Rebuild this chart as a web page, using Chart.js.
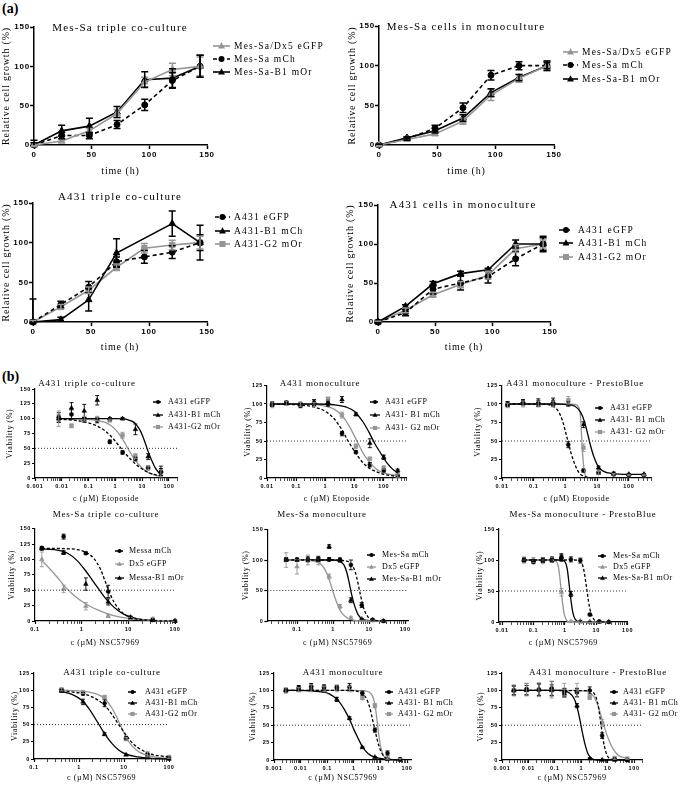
<!DOCTYPE html>
<html><head><meta charset="utf-8">
<script src="https://cdn.jsdelivr.net/npm/chart.js@4/dist/chart.umd.min.js"></script>
<style>
html,body{margin:0;padding:0;background:#fff;width:685px;height:787px;overflow:hidden;position:relative;}
canvas{position:absolute;}
.panel{position:absolute;font:bold 14px "Liberation Serif";color:#000;}
</style></head><body>
<div class="panel" style="left:2px;top:1px">(a)</div>
<div class="panel" style="left:2px;top:369px">(b)</div>
<script>
// ================= DATA =================
// ---- (a) growth curves ----
const timeH = [0, 24, 48, 72, 96, 120, 144];
const growthTicks = [0, 50, 100, 150];

const mesTriDx5 = [0, 5, 18, 40, 80, 96, 100];
const mesTriDx5Err = [3, 2, 3, 5, 6, 8, 12];
const mesTriMCh = [0, 12, 12, 26, 51, 82, 100];
const mesTriMChErr = [3, 4, 4, 5, 7, 10, 14];
const mesTriB1 = [0, 18, 24, 42, 83, 85, 100];
const mesTriB1Err = [6, 7, 10, 7, 10, 12, 14];

const mesMonoDx5 = [0, 7, 14, 30, 63, 84, 100];
const mesMonoDx5Err = [1, 2, 2, 4, 7, 5, 6];
const mesMonoMCh = [0, 8, 21, 47, 88, 100, 100];
const mesMonoMChErr = [1, 2, 4, 6, 6, 5, 6];
const mesMonoB1 = [0, 9, 18, 34, 66, 85, 100];
const mesMonoB1Err = [1, 1, 3, 4, 5, 4, 4];

const aTriEGFP = [0, 22, 44, 76, 82, 88, 100];
const aTriEGFPErr = [2, 4, 7, 6, 8, 8, 10];
const aTriB1 = [0, 3, 28, 87, null, 124, 100];
const aTriB1Err = [29, 3, 14, 18, null, 16, 22];
const aTriG2 = [0, 19, 40, 69, 93, 97, 100];
const aTriG2Err = [2, 3, 4, 4, 6, 6, 8];

const aMonoEGFP = [0, 12, 42, 50, 58, 81, 100];
const aMonoEGFPErr = [2, 4, 6, 9, 8, 9, 8];
const aMonoB1 = [0, 20, 49, 62, 67, 100, 100];
const aMonoB1Err = [1, 2, 3, 3, 2, 5, 10];
const aMonoG2 = [0, 15, 35, 48, 60, 94, 100];
const aMonoG2Err = [1, 3, 3, 4, 5, 5, 5];

// ---- (b) dose response ----
const logTickValues = [0.001, 0.01, 0.1, 1, 10, 100];
const logTickLabels = ['0.001', '0.01', '0.1', '1', '10', '100'];
const halfViability = 50;

// b1 A431 triple co-culture, Etoposide
const b1Conc = [0.0077, 0.023, 0.069, 0.21, 0.62, 1.85, 5.6, 16.7, 50];
const b1EGFP = [102, 107, 98, 97, 61, 43, 32, 17, 10];
const b1EGFPErr = [8, 8, 4, 4, 3, 3, 3, 3, 6];
const b1B1 = [100, 118, 113, 131, 100, 100, 82, 36, 12];
const b1B1Err = [6, 9, 11, 8, 2, 2, 9, 5, 8];
const b1G2 = [100, 88, 100, 100, 97, 72, 37, 17, 8];
const b1G2Err = [13, 3, 4, 4, 2, 5, 4, 3, 6];
const b1FitEGFPx = [0.0077, 0.02, 0.05, 0.1, 0.2, 0.4, 0.7, 1, 1.5, 2.5, 4, 7, 12, 20, 35, 50];
const b1FitEGFPy = [99, 98, 96, 93, 88, 80, 70, 62, 52, 40, 30, 20, 13, 8, 5, 4];
const b1FitB1x = [0.0077, 0.1, 1, 2, 3, 4.5, 6, 8, 10, 13, 17, 22, 30, 40, 50];
const b1FitB1y = [100, 100, 100, 99.5, 98, 95, 90, 82, 73, 59, 44, 31, 18, 10, 6];
const b1FitG2x = [0.0077, 0.05, 0.1, 0.2, 0.4, 0.7, 1, 1.5, 2.2, 3, 4.5, 7, 11, 17, 30, 50];
const b1FitG2y = [100, 99.5, 99, 97, 94, 88, 82, 72, 60, 49, 36, 24, 15, 9, 5, 3];

// b2 A431 monoculture, Etoposide
const b2Conc = [0.015, 0.046, 0.14, 0.41, 1.23, 3.7, 11.1, 33.3, 100, 300];
const b2EGFP = [100, 102, 98, 101, 100, 60, 35, 18, 10, 3];
const b2EGFPErr = [3, 2, 3, 3, 3, 3, 2, 3, 2, 2];
const b2B1 = [100, 101, 99, 102, 102, 106, 86, 47, 28, 10];
const b2B1Err = [3, 2, 2, 4, 3, 4, 2, 6, 3, 2];
const b2G2 = [99, 101, 100, 99, 107, 85, 43, 26, 14, 3];
const b2G2Err = [4, 3, 3, 3, 2, 4, 3, 2, 2, 2];
const b2FitEGFPx = [0.015, 0.05, 0.15, 0.4, 1, 2, 3.7, 6, 10, 18, 33, 60, 100, 300];
const b2FitEGFPy = [100, 99.5, 98.5, 96, 90, 80, 65, 50, 36, 22, 13, 8, 5, 2];
const b2FitB1x = [0.015, 0.5, 2, 5, 10, 20, 33, 50, 80, 130, 200, 300];
const b2FitB1y = [100, 100, 99, 96, 90, 75, 60, 46, 33, 20, 12, 7];
const b2FitG2x = [0.015, 0.3, 1, 2, 4, 7, 12, 20, 35, 60, 100, 300];
const b2FitG2y = [100, 99.5, 97, 93, 83, 68, 50, 33, 20, 11, 7, 3];

// b3 A431 monoculture - PrestoBlue, Etoposide
const b3Conc = [0.015, 0.046, 0.14, 0.41, 1.23, 3.7, 11.1, 33.3, 100, 300];
const b3EGFP = [100, 102, 101, 101, 45, 10, 7, 5, 4, 4];
const b3EGFPErr = [3, 3, 4, 4, 4, 2, 2, 1, 1, 1];
const b3B1 = [100, 103, 102, 103, 100, 72, 14, 6, 5, 5];
const b3B1Err = [3, 3, 5, 5, 3, 4, 2, 2, 1, 1];
const b3G2 = [98, 100, 100, 100, 105, 41, 7, 5, 4, 4];
const b3G2Err = [3, 4, 4, 4, 5, 5, 2, 1, 1, 1];
const b3FitEGFPx = [0.015, 0.2, 0.4, 0.6, 0.8, 1, 1.2, 1.5, 2, 2.7, 3.5, 5, 8];
const b3FitEGFPy = [100, 99.5, 97, 90, 78, 63, 50, 34, 18, 7, 3, 1, 0];
const b3FitB1x = [0.015, 0.5, 1, 2, 3, 4, 5, 6, 8, 11, 16, 30, 100, 300];
const b3FitB1y = [100, 100, 99.5, 97, 89, 76, 60, 46, 28, 15, 9, 6, 5, 5];
const b3FitG2x = [0.015, 1, 2, 2.6, 2.9, 3.1, 3.3, 3.6, 4.0, 4.8];
const b3FitG2y = [100, 100, 99.5, 96, 88, 72, 50, 25, 8, 0];

// b4 Mes-Sa triple co-culture, NSC57969
const b4Conc = [0.14, 0.41, 1.23, 3.7, 11.1, 33.3, 100];
const b4MCh = [118, 137, 110, 48, 5, 2, 0];
const b4MChErr = [3, 4, 2, 10, 2, 1, 1];
const b4Dx5 = [100, 52, 24, 8, 4, 3, 0];
const b4Dx5Err = [12, 6, 6, 2, 2, 3, 1];
const b4B1 = [118, 111, 60, 31, 6, 1, 0];
const b4B1Err = [2, 3, 10, 5, 2, 1, 1];
const b4FitMChx = [0.14, 0.4, 0.8, 1.2, 1.8, 2.5, 3.2, 4, 5, 6.5, 9, 13, 20, 40, 100];
const b4FitMChy = [118, 117.5, 116, 112, 102, 85, 64, 45, 30, 18, 9, 4, 2, 0.5, 0];
const b4FitDx5x = [0.14, 0.2, 0.3, 0.45, 0.7, 1, 1.5, 2.2, 3.5, 6, 11, 30, 100];
const b4FitDx5y = [98, 86, 71, 55, 41, 32, 24, 18, 12, 7, 4, 1.5, 0];
const b4FitB1x = [0.14, 0.25, 0.5, 0.8, 1.2, 1.7, 2.3, 3, 4, 6, 9, 15, 30, 100];
const b4FitB1y = [117, 116, 110, 98, 82, 66, 52, 40, 29, 17, 9, 4, 1, 0];

// b5 Mes-Sa monoculture, NSC57969
const b5Conc = [0.05, 0.1, 0.2, 0.39, 0.78, 1.56, 3.125, 6.25, 12.5, 25];
const b5MCh = [101, 101, 100, 102, 101, 100, 92, 26, 2, 0];
const b5MChErr = [3, 2, 3, 4, 3, 3, 8, 4, 1, 1];
const b5Dx5 = [100, 89, 100, 98, 73, 24, 5, 2, 1, 0];
const b5Dx5Err = [12, 12, 8, 6, 4, 3, 2, 1, 1, 1];
const b5B1 = [100, 100, 102, 101, 122, 100, 34, 3, 1, 0];
const b5B1Err = [2, 2, 3, 3, 3, 3, 4, 1, 1, 1];
const b5FitMChx = [0.05, 1, 2, 3, 3.8, 4.5, 5.2, 6, 7, 8.5, 11, 15, 25];
const b5FitMChy = [100, 100, 99, 95, 86, 72, 55, 38, 22, 10, 3, 1, 0];
const b5FitDx5x = [0.05, 0.2, 0.35, 0.5, 0.65, 0.8, 0.95, 1.15, 1.4, 1.8, 2.5, 4, 8, 25];
const b5FitDx5y = [100, 99.5, 97, 91, 80, 66, 52, 37, 24, 12, 5, 1, 0, 0];
const b5FitB1x = [0.05, 1, 1.5, 2, 2.4, 2.8, 3.2, 3.7, 4.3, 5, 6.5, 9, 25];
const b5FitB1y = [100, 100, 98, 92, 80, 63, 46, 31, 19, 10, 3, 1, 0];

// b6 Mes-Sa monoculture - PrestoBlue, NSC57969
const b6Conc = [0.05, 0.1, 0.2, 0.39, 0.78, 1.56, 3.125, 6.25, 12.5, 25];
const b6MCh = [100, 97, 100, 101, 103, 101, 99, 12, 1, 0];
const b6MChErr = [3, 3, 4, 4, 5, 4, 4, 2, 1, 1];
const b6Dx5 = [100, 100, 99, 100, 48, 1, 0, 0, 0, 0];
const b6Dx5Err = [5, 4, 5, 4, 6, 1, 1, 1, 1, 1];
const b6B1 = [100, 99, 100, 100, 106, 45, 1, 0, 0, 0];
const b6B1Err = [3, 2, 3, 3, 4, 4, 1, 1, 1, 1];
const b6FitMChx = [0.05, 2, 3, 3.6, 4.1, 4.6, 5.1, 5.7, 6.5, 8, 10, 25];
const b6FitMChy = [100, 100, 98, 93, 82, 66, 50, 33, 18, 6, 1, 0];
const b6FitDx5x = [0.05, 0.4, 0.55, 0.63, 0.7, 0.77, 0.85, 0.95, 1.1, 1.4, 25];
const b6FitDx5y = [100, 100, 97, 88, 70, 50, 30, 14, 4, 0, 0];
const b6FitB1x = [0.05, 0.8, 1.05, 1.2, 1.32, 1.45, 1.6, 1.8, 2.1, 2.7, 25];
const b6FitB1y = [100, 100, 96, 85, 68, 50, 32, 15, 5, 0.5, 0];

// b7 A431 triple co-culture, NSC57969
const b7Conc = [0.41, 1.23, 3.7, 11.1, 33.3, 100];
const b7EGFP = [100, 95, 81, 30, 6, 1];
const b7EGFPErr = [2, 2, 5, 3, 2, 1];
const b7B1 = [99, 83, 36, 6, 2, 0];
const b7B1Err = [2, 4, 2, 1, 1, 1];
const b7G2 = [101, 97, 90, 29, 7, 3];
const b7G2Err = [2, 2, 2, 2, 4, 2];
const b7FitEGFPx = [0.41, 0.8, 1.23, 2, 3.7, 5.5, 8, 11.1, 16, 25, 40, 100];
const b7FitEGFPy = [99, 97, 95, 90, 78, 64, 48, 35, 22, 13, 7, 3];
const b7FitB1x = [0.41, 0.7, 1.23, 1.8, 2.5, 3.7, 5.5, 8, 11.1, 20, 40, 100];
const b7FitB1y = [98, 94, 84, 70, 55, 37, 22, 12, 7, 3, 1, 0];
const b7FitG2x = [0.41, 1, 2, 3.7, 5.5, 7, 8.5, 11.1, 15, 22, 35, 60, 100];
const b7FitG2y = [100, 99, 96, 88, 73, 60, 48, 32, 19, 10, 5, 2, 1];

// b8 A431 monoculture, NSC57969
const b8Conc = [0.0028, 0.0085, 0.025, 0.076, 0.23, 0.69, 2.1, 6.2, 18.5, 55];
const b8EGFP = [100, 104, 106, 105, 104, 105, 96, 43, 10, 1];
const b8EGFPErr = [2, 3, 4, 3, 3, 5, 3, 3, 3, 1];
const b8B1 = [100, 101, 102, 100, 87, 60, 18, 4, 1, 0];
const b8B1Err = [2, 2, 3, 3, 3, 2, 1, 1, 1, 1];
const b8G2 = [100, 101, 103, 102, 103, 102, 89, 78, 2, 1];
const b8G2Err = [4, 3, 5, 4, 5, 4, 2, 3, 1, 1];
const b8FitEGFPx = [0.0028, 0.5, 1, 2, 3, 4, 5, 6.2, 7.5, 9, 12, 18.5, 55];
const b8FitEGFPy = [100, 100, 99.5, 96, 88, 75, 59, 44, 30, 19, 8, 2, 0];
const b8FitB1x = [0.0028, 0.02, 0.06, 0.12, 0.25, 0.45, 0.7, 1, 1.5, 2.1, 3.5, 6, 18.5, 55];
const b8FitB1y = [100, 99.5, 98, 95, 86, 72, 58, 44, 30, 19, 9, 4, 1, 0];
const b8FitG2x = [0.0028, 1, 3, 4.5, 5.5, 6.2, 7, 8, 9, 10.5, 13, 18.5, 55];
const b8FitG2y = [100, 100, 99, 95, 88, 80, 66, 48, 32, 17, 6, 1, 0];

// b9 A431 monoculture - PrestoBlue, NSC57969
const b9Conc = [0.0028, 0.0085, 0.025, 0.076, 0.23, 0.69, 2.1, 6.2, 18.5, 55];
const b9EGFP = [100, 102, 101, 103, 97, 97, 100, 35, 1, 0];
const b9EGFPErr = [6, 8, 9, 10, 6, 6, 5, 4, 1, 1];
const b9B1 = [100, 100, 101, 100, 95, 78, 2, 0, 0, 0];
const b9B1Err = [7, 7, 8, 8, 5, 3, 1, 1, 1, 1];
const b9G2 = [100, 101, 101, 101, 100, 100, 90, 53, 3, 2];
const b9G2Err = [8, 9, 10, 12, 10, 10, 3, 5, 2, 1];
const b9FitEGFPx = [0.0028, 2, 3, 3.8, 4.5, 5.2, 6, 7, 8.5, 10.5, 14, 55];
const b9FitEGFPy = [100, 99.5, 96, 88, 76, 60, 43, 26, 12, 4, 1, 0];
const b9FitB1x = [0.0028, 0.15, 0.3, 0.45, 0.6, 0.75, 0.9, 1.1, 1.4, 1.8, 2.5, 4, 55];
const b9FitB1y = [100, 100, 98, 93, 84, 71, 57, 40, 22, 9, 2, 0, 0];
const b9FitG2x = [0.0028, 0.5, 1, 2, 3, 4.5, 6, 8, 11, 16, 25, 55];
const b9FitG2y = [100, 100, 99.5, 97, 91, 76, 60, 44, 29, 16, 7, 2];

// ================= STYLE / LAYOUT =================
const BLACK = '#000000', GRAY = '#959595';
Chart.defaults.animation = false;
Chart.defaults.responsive = false;
Chart.defaults.maintainAspectRatio = false;
Chart.defaults.plugins.legend.display = false;
Chart.defaults.plugins.tooltip.enabled = false;
Chart.defaults.color = '#000';

function drawMarker(ctx, style, x, y, r, color) {
  ctx.save();
  ctx.fillStyle = color;
  ctx.beginPath();
  if (style === 'circle') ctx.arc(x, y, r, 0, Math.PI * 2);
  else if (style === 'triangle') { ctx.moveTo(x, y - r * 1.25); ctx.lineTo(x + r * 1.15, y + r * 0.8); ctx.lineTo(x - r * 1.15, y + r * 0.8); ctx.closePath(); }
  else ctx.rect(x - r, y - r, 2 * r, 2 * r);
  ctx.fill();
  ctx.restore();
}

const errorBars = {
  id: 'errorBars',
  afterDatasetsDraw(chart) {
    const ctx = chart.ctx;
    chart.data.datasets.forEach((ds, i) => {
      if (!ds.errors) return;
      const meta = chart.getDatasetMeta(i);
      const ys = chart.scales[meta.yAxisID];
      ctx.save();
      ctx.strokeStyle = ds.borderColor;
      ctx.lineWidth = ds.errWidth;
      ctx.setLineDash([]);
      meta.data.forEach((el, j) => {
        const e = ds.errors[j];
        const v = ds.data[j].y;
        if (e == null || v == null || !e) return;
        const top = ys.getPixelForValue(v + e);
        const lowV = Math.max(v - e, ys.min);
        const bot = ys.getPixelForValue(lowV);
        const x = el.x, c = ds.capHalf;
        ctx.beginPath();
        ctx.moveTo(x, top); ctx.lineTo(x, bot);
        ctx.moveTo(x - c, top); ctx.lineTo(x + c, top);
        if (v - e > ys.min) { ctx.moveTo(x - c, bot); ctx.lineTo(x + c, bot); }
        ctx.stroke();
      });
      ctx.restore();
    });
  }
};

const annot = {
  id: 'annot',
  beforeDraw(chart, args, o) { chart.ctx.letterSpacing = o.ls + 'px'; },
  afterDraw(chart, args, o) {
    const ctx = chart.ctx;
    ctx.save();
    ctx.fillStyle = '#000';
    ctx.textBaseline = 'middle';
    ctx.letterSpacing = o.titleLs + 'px';
    ctx.font = o.titleFont;
    ctx.textAlign = 'center';
    ctx.fillText(o.title, o.titleX - o.ox, o.titleY - o.oy);
    ctx.font = o.legendFont;
    ctx.letterSpacing = o.legendLs + 'px';
    ctx.textAlign = 'left';
    for (let k = 0; k < o.items.length; k++) {
      const it = o.items[k];
      const ds = chart.data.datasets[it.ds];
      const y = o.ys[k] - o.oy, x0 = o.x0 - o.ox, x1 = o.x1 - o.ox;
      ctx.strokeStyle = ds.borderColor;
      ctx.lineWidth = ds.borderWidth;
      ctx.setLineDash(ds.borderDash || []);
      ctx.beginPath(); ctx.moveTo(x0, y); ctx.lineTo(x1, y); ctx.stroke();
      ctx.setLineDash([]);
      drawMarker(ctx, it.point, (x0 + x1) / 2, y, o.mr, ds.borderColor);
      ctx.fillStyle = '#000';
      ctx.fillText(ds.label, o.tx - o.ox, y);
    }
    ctx.restore();
  }
};
Chart.register(errorBars, annot);

const styleA = {tick: 8, tickLen: 4, tickPad: 0, axisW: 1.5, axisSize: 10, ls: 0.8,
  titleFont: '11px "Liberation Serif"', titleLs: 1.2, legendFont: '9.5px "Liberation Serif"', legendLs: 1.2, mr: 3};
const styleB = {tick: 5.5, tickLen: 3, tickPad: 1, axisW: 1.2, axisSize: 8, ls: 0.6,
  titleFont: '9px "Liberation Serif"', titleLs: 0.8, legendFont: '8px "Liberation Serif"', legendLs: 0.5, mr: 2.1};

function logTicks(min, max) {
  const out = [];
  for (let e = Math.floor(Math.log10(min)); e <= Math.ceil(Math.log10(max)); e++) {
    for (let k = 1; k <= 9; k++) {
      const v = Number((k * Math.pow(10, e)).toPrecision(6));
      if (v >= min * 0.9999 && v <= max * 1.0001) out.push({value: v});
    }
  }
  return out;
}
function logLabel(v) {
  const i = logTickValues.findIndex(t => Math.abs(Math.log10(v) - Math.log10(t)) < 1e-6);
  return i >= 0 ? logTickLabels[i] : '';
}

function build(spec, st, datasets, items) {
  const lh = st.axisSize * 1.2;
  const cx = Math.round(spec.yTitleX - lh / 2 - 1);
  const cy = Math.round(Math.min(spec.plot.T, spec.title.y) - 12);
  const cr = Math.round(spec.legend.tx + 112);
  const cb = Math.round(spec.xTitleY + lh / 2 + 2);
  const W = cr - cx, H = cb - cy;
  const canvas = document.createElement('canvas');
  canvas.width = W; canvas.height = H;
  canvas.style.left = cx + 'px'; canvas.style.top = cy + 'px';
  canvas.style.width = W + 'px'; canvas.style.height = H + 'px';
  document.body.appendChild(canvas);
  const Wy = spec.plot.L - (spec.yTitleX - lh / 2);
  const Hx = spec.xTitleY + lh / 2 - spec.plot.B;
  const padding = {
    left: spec.yTitleX - lh / 2 - cx,
    top: spec.plot.T - cy,
    right: cx + W - spec.plot.R,
    bottom: cy + H - (spec.plot.B + Hx)
  };
  const tickFont = {family: 'Liberation Sans', weight: 'bold', size: st.tick};
  const titleFont = {family: 'Liberation Serif', size: st.axisSize};
  const isLog = spec.xType === 'logarithmic';
  const xScale = {
    type: spec.xType, min: spec.xMin, max: spec.xMax, position: 'bottom',
    afterFit(s) { s.height = Hx; },
    ticks: {font: tickFont, color: '#000', padding: st.tickPad + 1, maxRotation: 0, minRotation: 0, autoSkip: false},
    grid: {display: true, drawOnChartArea: false, drawTicks: true, tickLength: st.tickLen, color: '#000', tickColor: '#000',
      tickWidth: isLog ? (c) => (logLabel(c.tick.value) ? st.axisW : 0.7) : st.axisW},
    border: {display: true, color: '#000', width: st.axisW},
    title: {display: true, text: spec.xTitle, font: titleFont, color: '#000', padding: 0}
  };
  if (isLog) {
    xScale.afterBuildTicks = (s) => { s.ticks = logTicks(spec.xMin, spec.xMax); };
    xScale.ticks.callback = (v) => logLabel(v);
  } else {
    xScale.ticks.stepSize = spec.xStep;
  }
  const yScale = {
    type: 'linear', min: 0, max: spec.yMax, position: 'left',
    afterFit(s) { s.width = Wy; },
    ticks: {font: tickFont, color: '#000', padding: st.tickPad, stepSize: spec.yStep},
    grid: {display: true, drawOnChartArea: false, drawTicks: true, tickLength: st.tickLen, color: '#000', tickColor: '#000', tickWidth: st.axisW},
    border: {display: true, color: '#000', width: st.axisW},
    title: {display: true, text: spec.yTitle, font: titleFont, color: '#000', padding: 0}
  };
  new Chart(canvas, {
    type: 'line',
    data: {datasets},
    options: {
      devicePixelRatio: 1,
      events: [],
      layout: {padding},
      scales: {x: xScale, y: yScale},
      plugins: {
        annot: {
          ox: cx, oy: cy, ls: st.ls,
          title: spec.title.text, titleX: spec.title.x, titleY: spec.title.y, titleFont: st.titleFont, titleLs: st.titleLs,
          legendFont: st.legendFont, legendLs: st.legendLs, mr: st.mr,
          x0: spec.legend.x0, x1: spec.legend.x1, tx: spec.legend.tx, ys: spec.legend.ys,
          items
        }
      }
    }
  });
}

// ---- (a) builder ----
function lineSeries(label, ys, errs, color, dash, point) {
  return {
    label, data: timeH.map((t, i) => ({x: t, y: ys[i]})), errors: errs,
    borderColor: color, backgroundColor: color, borderWidth: 1.6, borderDash: dash,
    pointStyle: point, pointRadius: point === 'circle' ? 3 : 3.8,
    pointBackgroundColor: color, pointBorderColor: color, pointBorderWidth: 1,
    showLine: true, tension: 0, spanGaps: true, fill: false, clip: false,
    errWidth: 1.5, capHalf: 3.5
  };
}
function panelA(spec, series) {
  const ds = series.map(s => lineSeries(s[0], s[1], s[2], s[3], s[4], s[5]));
  const items = series.map((s, i) => ({ds: i, point: s[5]}));
  build(Object.assign({xType: 'linear', xMin: 0, xMax: 150, xStep: 50, yMax: 150, yStep: 50,
    xTitle: 'time (h)', yTitle: 'Relative cell growth (%)'}, spec), styleA, ds, items);
}

// ---- (b) builder ----
function panelB(spec, conc, series) {
  const ds = [{
    label: '50%', data: [{x: spec.xMin, y: halfViability}, {x: spec.xMax, y: halfViability}],
    borderColor: '#333', borderWidth: 1, borderDash: [1, 2], pointRadius: 0, showLine: true, fill: false, clip: false
  }];
  const items = [];
  series.forEach(s => {
    const [label, ys, errs, fx, fy, color, dash, point] = s;
    items.push({ds: ds.length, point});
    ds.push({
      label, data: fx.map((x, i) => ({x, y: fy[i]})),
      borderColor: color, backgroundColor: color, borderWidth: 1.3, borderDash: dash,
      pointRadius: 0, showLine: true, cubicInterpolationMode: 'monotone', fill: false, clip: false
    });
  });
  series.forEach(s => {
    const [label, ys, errs, fx, fy, color, dash, point] = s;
    ds.push({
      label: label + ' data', data: conc.map((x, i) => ({x, y: ys[i]})), errors: errs,
      borderColor: color, backgroundColor: color, showLine: false,
      pointStyle: point, pointRadius: point === 'circle' ? 2 : 2.7,
      pointBackgroundColor: color, pointBorderColor: color, pointBorderWidth: 0.5, clip: false,
      errWidth: 0.9, capHalf: 2
    });
  });
  build(Object.assign({xType: 'logarithmic', yTitle: 'Viability (%)'}, spec), styleB, ds, items);
}

// ================= CHARTS =================
panelA({plot: {L: 34, R: 207, T: 27, B: 145}, yTitleX: 6, xTitleY: 171,
  title: {text: 'Mes-Sa triple co-culture', x: 120, y: 28},
  legend: {x0: 213, x1: 230, tx: 234, ys: [46, 59, 72]}}, [
  ['Mes-Sa/Dx5 eGFP', mesTriDx5, mesTriDx5Err, GRAY, [], 'triangle'],
  ['Mes-Sa mCh', mesTriMCh, mesTriMChErr, BLACK, [4, 3], 'circle'],
  ['Mes-Sa-B1 mOr', mesTriB1, mesTriB1Err, BLACK, [], 'triangle']]);

panelA({plot: {L: 379, R: 554, T: 26, B: 145}, yTitleX: 352, xTitleY: 171,
  title: {text: 'Mes-Sa cells in monoculture', x: 466, y: 27},
  legend: {x0: 563, x1: 578, tx: 582, ys: [52, 65, 79]}}, [
  ['Mes-Sa/Dx5 eGFP', mesMonoDx5, mesMonoDx5Err, GRAY, [], 'triangle'],
  ['Mes-Sa mCh', mesMonoMCh, mesMonoMChErr, BLACK, [4, 3], 'circle'],
  ['Mes-Sa-B1 mOr', mesMonoB1, mesMonoB1Err, BLACK, [], 'triangle']]);

panelA({plot: {L: 33, R: 207, T: 203, B: 322}, yTitleX: 6, xTitleY: 347,
  title: {text: 'A431 triple co-culture', x: 120, y: 197},
  legend: {x0: 215, x1: 230, tx: 234, ys: [217, 231, 244]}}, [
  ['A431 eGFP', aTriEGFP, aTriEGFPErr, BLACK, [4, 3], 'circle'],
  ['A431-B1 mCh', aTriB1, aTriB1Err, BLACK, [], 'triangle'],
  ['A431-G2 mOr', aTriG2, aTriG2Err, GRAY, [], 'rect']]);

panelA({plot: {L: 378, R: 550, T: 205, B: 322}, yTitleX: 350, xTitleY: 347,
  title: {text: 'A431 cells in monoculture', x: 463, y: 205},
  legend: {x0: 559, x1: 573, tx: 578, ys: [230, 243, 257]}}, [
  ['A431 eGFP', aMonoEGFP, aMonoEGFPErr, BLACK, [4, 3], 'circle'],
  ['A431-B1 mCh', aMonoB1, aMonoB1Err, BLACK, [], 'triangle'],
  ['A431-G2 mOr', aMonoG2, aMonoG2Err, GRAY, [], 'rect']]);

const ETO = 'c (µM) Etoposide', NSC = 'c (µM) NSC57969';
const DASH = [3, 2];

panelB({plot: {L: 35, R: 177, T: 389, B: 478}, xMin: 0.001, xMax: 200, yMax: 150, yStep: 25,
  yTitleX: 10, xTitleY: 499, xTitle: ETO,
  title: {text: 'A431 triple co-culture', x: 87, y: 384},
  legend: {x0: 153, x1: 163, tx: 168, ys: [402, 415, 427]}}, b1Conc, [
  ['A431 eGFP', b1EGFP, b1EGFPErr, b1FitEGFPx, b1FitEGFPy, BLACK, DASH, 'circle'],
  ['A431-B1 mCh', b1B1, b1B1Err, b1FitB1x, b1FitB1y, BLACK, [], 'triangle'],
  ['A431-G2 mOr', b1G2, b1G2Err, b1FitG2x, b1FitG2y, GRAY, [], 'rect']]);

panelB({plot: {L: 267, R: 406.5, T: 385.5, B: 478}, xMin: 0.01, xMax: 600, yMax: 125, yStep: 25,
  yTitleX: 248, xTitleY: 499, xTitle: ETO,
  title: {text: 'A431 monoculture', x: 320, y: 384},
  legend: {x0: 370, x1: 380, tx: 385, ys: [402, 415, 428]}}, b2Conc, [
  ['A431 eGFP', b2EGFP, b2EGFPErr, b2FitEGFPx, b2FitEGFPy, BLACK, DASH, 'circle'],
  ['A431- B1 mCh', b2B1, b2B1Err, b2FitB1x, b2FitB1y, BLACK, [], 'triangle'],
  ['A431- G2 mOr', b2G2, b2G2Err, b2FitG2x, b2FitG2y, GRAY, [], 'rect']]);

panelB({plot: {L: 502, R: 651, T: 385.5, B: 478}, xMin: 0.01, xMax: 500, yMax: 125, yStep: 25,
  yTitleX: 478, xTitleY: 499, xTitle: ETO,
  title: {text: 'A431 monoculture - PrestoBlue', x: 575, y: 384},
  legend: {x0: 595, x1: 605, tx: 610, ys: [408, 420, 432]}}, b3Conc, [
  ['A431 eGFP', b3EGFP, b3EGFPErr, b3FitEGFPx, b3FitEGFPy, BLACK, DASH, 'circle'],
  ['A431- B1 mCh', b3B1, b3B1Err, b3FitB1x, b3FitB1y, BLACK, [], 'triangle'],
  ['A431- G2 mOr', b3G2, b3G2Err, b3FitG2x, b3FitG2y, GRAY, [], 'rect']]);

panelB({plot: {L: 35, R: 175, T: 528.6, B: 621}, xMin: 0.1, xMax: 100, yMax: 150, yStep: 25,
  yTitleX: 12, xTitleY: 643, xTitle: NSC,
  title: {text: 'Mes-Sa triple co-culture', x: 106, y: 515},
  legend: {x0: 115, x1: 124, tx: 129, ys: [551, 564, 578]}}, b4Conc, [
  ['Messa mCh', b4MCh, b4MChErr, b4FitMChx, b4FitMChy, BLACK, DASH, 'circle'],
  ['Dx5 eGFP', b4Dx5, b4Dx5Err, b4FitDx5x, b4FitDx5y, GRAY, [], 'triangle'],
  ['Messa-B1 mOr', b4B1, b4B1Err, b4FitB1x, b4FitB1y, BLACK, [], 'triangle']]);

panelB({plot: {L: 267.3, R: 408, T: 529.5, B: 621}, xMin: 0.015, xMax: 120, yMax: 150, yStep: 50,
  yTitleX: 246, xTitleY: 643, xTitle: NSC,
  title: {text: 'Mes-Sa monoculture', x: 322, y: 515},
  legend: {x0: 367, x1: 376, tx: 382, ys: [555, 567, 579]}}, b5Conc, [
  ['Mes-Sa mCh', b5MCh, b5MChErr, b5FitMChx, b5FitMChy, BLACK, DASH, 'circle'],
  ['Dx5 eGFP', b5Dx5, b5Dx5Err, b5FitDx5x, b5FitDx5y, GRAY, [], 'triangle'],
  ['Mes-Sa-B1 mOr', b5B1, b5B1Err, b5FitB1x, b5FitB1y, BLACK, [], 'triangle']]);

panelB({plot: {L: 499, R: 627.6, T: 529, B: 622}, xMin: 0.008, xMax: 100, yMax: 150, yStep: 50,
  yTitleX: 480, xTitleY: 643, xTitle: NSC,
  title: {text: 'Mes-Sa monoculture - PrestoBlue', x: 583, y: 515},
  legend: {x0: 598, x1: 607, tx: 613, ys: [556, 567, 578]}}, b6Conc, [
  ['Mes-Sa mCh', b6MCh, b6MChErr, b6FitMChx, b6FitMChy, BLACK, DASH, 'circle'],
  ['Dx5 eGFP', b6Dx5, b6Dx5Err, b6FitDx5x, b6FitDx5y, GRAY, [], 'triangle'],
  ['Mes-Sa-B1 mOr', b6B1, b6B1Err, b6FitB1x, b6FitB1y, BLACK, [], 'triangle']]);

panelB({plot: {L: 34, R: 169, T: 673, B: 759}, xMin: 0.1, xMax: 100, yMax: 125, yStep: 25,
  yTitleX: 15, xTitleY: 778, xTitle: NSC,
  title: {text: 'A431 triple co-culture', x: 112, y: 673},
  legend: {x0: 128, x1: 137, tx: 145, ys: [692, 703, 714]}}, b7Conc, [
  ['A431 eGFP', b7EGFP, b7EGFPErr, b7FitEGFPx, b7FitEGFPy, BLACK, DASH, 'circle'],
  ['A431-B1 mCh', b7B1, b7B1Err, b7FitB1x, b7FitB1y, BLACK, [], 'triangle'],
  ['A431-G2 mOr', b7G2, b7G2Err, b7FitG2x, b7FitG2y, GRAY, [], 'rect']]);

panelB({plot: {L: 274, R: 411.7, T: 673, B: 760}, xMin: 0.001, xMax: 150, yMax: 125, yStep: 25,
  yTitleX: 253, xTitleY: 778, xTitle: NSC,
  title: {text: 'A431 monoculture', x: 343, y: 673},
  legend: {x0: 385, x1: 393, tx: 398, ys: [692, 703, 714]}}, b8Conc, [
  ['A431 eGFP', b8EGFP, b8EGFPErr, b8FitEGFPx, b8FitEGFPy, BLACK, DASH, 'circle'],
  ['A431- B1 mCh', b8B1, b8B1Err, b8FitB1x, b8FitB1y, BLACK, [], 'triangle'],
  ['A431- G2 mOr', b8G2, b8G2Err, b8FitG2x, b8FitG2y, GRAY, [], 'rect']]);

panelB({plot: {L: 502, R: 642, T: 673, B: 760}, xMin: 0.001, xMax: 200, yMax: 125, yStep: 25,
  yTitleX: 481, xTitleY: 778, xTitle: NSC,
  title: {text: 'A431 monoculture - PrestoBlue', x: 598, y: 673},
  legend: {x0: 610, x1: 618, tx: 623, ys: [692, 703, 714]}}, b9Conc, [
  ['A431 eGFP', b9EGFP, b9EGFPErr, b9FitEGFPx, b9FitEGFPy, BLACK, DASH, 'circle'],
  ['A431- B1 mCh', b9B1, b9B1Err, b9FitB1x, b9FitB1y, BLACK, [], 'triangle'],
  ['A431- G2 mOr', b9G2, b9G2Err, b9FitG2x, b9FitG2y, GRAY, [], 'rect']]);
</script>
</body></html>
